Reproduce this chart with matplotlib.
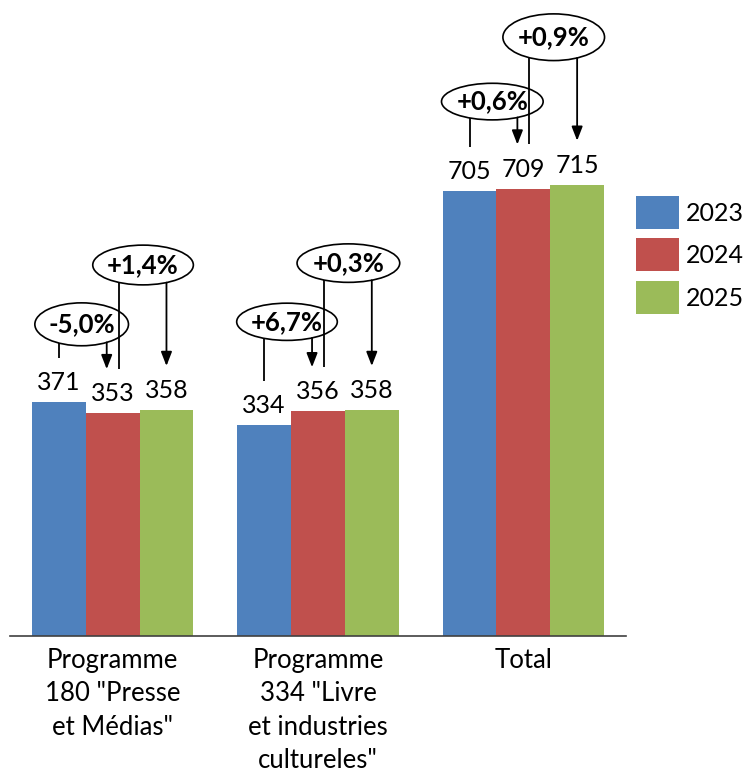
import numpy as np
import matplotlib
matplotlib.use('Agg')
import matplotlib.pyplot as plt
from matplotlib.patches import Ellipse, Patch

# -----------------------------------------------------------------------------
# Data
# -----------------------------------------------------------------------------
categories = ['Programme\n180 "Presse\net Médias"',
              'Programme\n334 "Livre\net industries\ncultureles"',
              'Total']
years = ['2023', '2024', '2025']
values_2023 = [371, 334, 705]
values_2024 = [353, 356, 709]
values_2025 = [358, 358, 715]
# year-on-year changes: 2023->2024, 2024->2025
changes = [['-5,0%', '+1,4%'],
           ['+6,7%', '+0,3%'],
           ['+0,6%', '+0,9%']]

colors = ['#4F81BD', '#C0504D', '#9BBB59']

# -----------------------------------------------------------------------------
# Layout of the change bubbles (data units)
# -----------------------------------------------------------------------------
bubble_y = [[494, 588], [498, 591], [847, 949]]
bubble_h = [[68, 63], [59, 61], [58, 74]]
bubble_w = [[0.456, 0.49], [0.49, 0.5], [0.495, 0.495]]
bubble_dx = [-0.02, 0.017]
gap = 70          # space between bar top and line end
nudge = 0.029     # lines on the middle bar are pulled apart

plt.rcParams['font.family'] = ['Lato', 'DejaVu Sans']

fig = plt.figure(figsize=(7.45, 7.73), dpi=100)
ax = fig.add_axes([10 / 745, 137 / 773, 616 / 745, 636 / 773])

series = [values_2023, values_2024, values_2025]
x = np.arange(len(categories))
w = 0.262
offsets = [-w, 0, w]

for s, vals in enumerate(series):
    ax.bar(x + offsets[s], vals, width=w, color=colors[s], label=years[s], zorder=2)
    for xi, v in zip(x, vals):
        ax.annotate(str(v), (xi + offsets[s], v), xytext=(0, 14),
                    textcoords='offset points', ha='center', va='center',
                    fontsize=18, color='black')

# change bubbles with their connector lines
for g in range(len(categories)):
    for k in range(2):
        left = g + offsets[k] + (nudge if k == 1 else 0)
        right = g + offsets[k + 1] - (nudge if k + 1 == 1 else 0)
        cx = (g + offsets[k] + g + offsets[k + 1]) / 2 + bubble_dx[k]
        cy = bubble_y[g][k]
        a = bubble_w[g][k] / 2
        b = bubble_h[g][k] / 2

        def edge(xx):
            return cy - b * np.sqrt(max(0.0, 1 - ((xx - cx) / a) ** 2))

        ax.add_patch(Ellipse((cx, cy), 2 * a, 2 * b, facecolor='white',
                             edgecolor='black', lw=1.2, zorder=3))
        ax.text(cx, cy, changes[g][k], ha='center', va='center',
                fontsize=18.5, fontweight='bold', zorder=5)

        v0 = series[k][g]
        v1 = series[k + 1][g]
        ax.plot([left, left], [edge(left), v0 + gap], color='black',
                lw=1.3, zorder=4, solid_capstyle='butt')
        ax.annotate('', xy=(right, v1 + gap), xytext=(right, edge(right)),
                    arrowprops=dict(arrowstyle='-|>,head_length=0.85,head_width=0.33',
                                    mutation_scale=10, color='black', lw=1.3,
                                    shrinkA=0, shrinkB=0),
                    zorder=4)

ax.set_xlim(-0.5, 2.5)
ax.set_ylim(0, 1008)
ax.set_xticks(x, categories)
ax.tick_params(axis='x', length=0, pad=8.5, labelsize=18.5)
for lbl in ax.get_xticklabels():
    lbl.set_linespacing(1.42)
ax.set_yticks([])
for side in ['top', 'left', 'right']:
    ax.spines[side].set_visible(False)
ax.spines['bottom'].set_color('#404040')
ax.spines['bottom'].set_linewidth(1.2)
ax.patch.set_alpha(0)

handles = [Patch(facecolor=c) for c in colors]
fig.legend(handles, years, loc='upper left',
           bbox_to_anchor=(636 / 745, 1 - 196 / 773), frameon=False,
           fontsize=18, handlelength=1.7, handleheight=1.65,
           handletextpad=0.3, labelspacing=0.38, borderpad=0,
           borderaxespad=0)

plt.savefig('out.png', dpi=100)
